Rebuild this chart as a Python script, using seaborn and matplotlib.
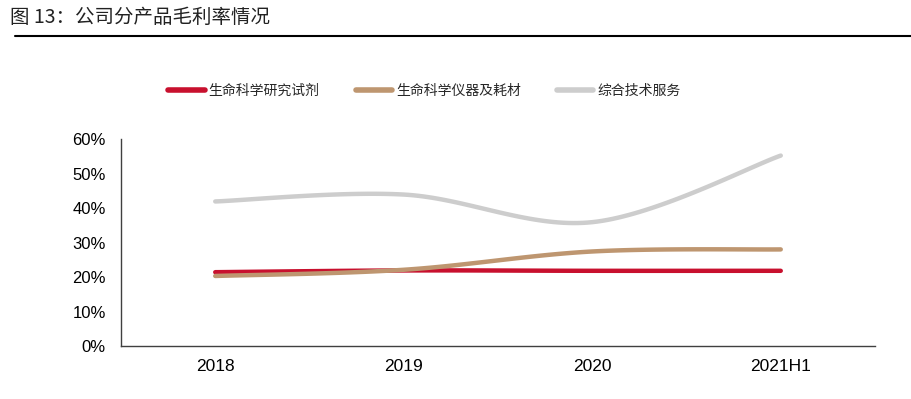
import matplotlib
matplotlib.use('Agg')
import matplotlib.pyplot as plt
import seaborn as sns
import pandas as pd
import numpy as np
from matplotlib.lines import Line2D

# 数据
periods = ['2018', '2019', '2020', '2021H1']
reagent = [21.4, 21.9, 21.8, 21.8]      # 生命科学研究试剂
instrument = [20.3, 22.1, 27.4, 28.0]   # 生命科学仪器及耗材
service = [41.9, 43.9, 35.9, 55.2]      # 综合技术服务
series_names = ['生命科学研究试剂', '生命科学仪器及耗材', '综合技术服务']
colors = ['#C8102E', '#BE9670', '#CDCDCD']

sns.set_theme(style='white')
plt.rcParams['font.family'] = ['Liberation Sans', 'Noto Sans CJK SC', 'DejaVu Sans']
plt.rcParams['axes.unicode_minus'] = False


def smooth(y, n=40):
    # Excel 风格的平滑线 (Bezier, 控制点取相邻点斜率的 1/6)
    x = np.arange(len(y), dtype=float)
    y = np.asarray(y, dtype=float)
    pts = np.column_stack([x, y])
    ext = np.vstack([pts[0], pts, pts[-1]])
    xs, ys = [], []
    for i in range(len(pts) - 1):
        p0, p3 = ext[i + 1], ext[i + 2]
        p1 = p0 + (ext[i + 2] - ext[i]) / 6
        p2 = p3 - (ext[i + 3] - ext[i + 1]) / 6
        t = np.linspace(0, 1, n)[:, None]
        c = ((1 - t) ** 3) * p0 + 3 * ((1 - t) ** 2) * t * p1 + 3 * (1 - t) * t ** 2 * p2 + t ** 3 * p3
        xs.extend(c[:, 0])
        ys.extend(c[:, 1])
    return xs, ys


fig = plt.figure(figsize=(9.11, 3.99), dpi=100)
ax = fig.add_axes([0.1328, 0.1328, 0.8277, 0.5188])

for name, vals, col in zip(series_names, [reagent, instrument, service], colors):
    sx, sy = smooth(vals)
    df = pd.DataFrame({'x': sx, 'y': sy})
    sns.lineplot(data=df, x='x', y='y', ax=ax, color=col, linewidth=3.2,
                 solid_capstyle='round', sort=False, estimator=None)

ax.set_xlim(-0.5, 3.5)
ax.set_ylim(0, 60)
ax.set_yticks(np.arange(0, 61, 10))
ax.set_yticklabels([f'{v}%' for v in range(0, 61, 10)], fontsize=12)
ax.set_xticks(range(len(periods)))
ax.set_xticklabels(periods, fontsize=12.5)
ax.set_xticks(np.arange(-0.5, 3.6, 1), minor=True)
ax.tick_params(axis='x', which='major', length=0, pad=9, colors='#000000')
ax.tick_params(axis='x', which='minor', length=5, direction='in', color='#404040', width=1)
ax.tick_params(axis='y', length=5, direction='in', color='#404040', width=1, pad=11, colors='#000000')
ax.tick_params(axis='y', color='#404040')
ax.set_xlabel('')
ax.set_ylabel('')
for s in ['top', 'right']:
    ax.spines[s].set_visible(False)
for s in ['left', 'bottom']:
    ax.spines[s].set_color('#404040')
    ax.spines[s].set_linewidth(1)

handles = [Line2D([0], [0], color=c, linewidth=4, solid_capstyle='round') for c in colors]
fig.legend(handles, series_names, loc='center', bbox_to_anchor=(0.466, 0.772), ncol=3,
           frameon=False, handlelength=2.6, columnspacing=2.6, handletextpad=0.3,
           prop={'family': ['Noto Sans CJK SC', 'DejaVu Sans'], 'size': 10})

fig.text(0.011, 0.955, '图 13：公司分产品毛利率情况', fontsize=14, va='center', ha='left',
         family=['Noto Sans CJK SC', 'DejaVu Sans'], color='#222222')
fig.add_artist(Line2D([0.016, 1.0], [0.91, 0.91], transform=fig.transFigure, color='black', linewidth=1.5))

fig.savefig('out.png', dpi=100)
